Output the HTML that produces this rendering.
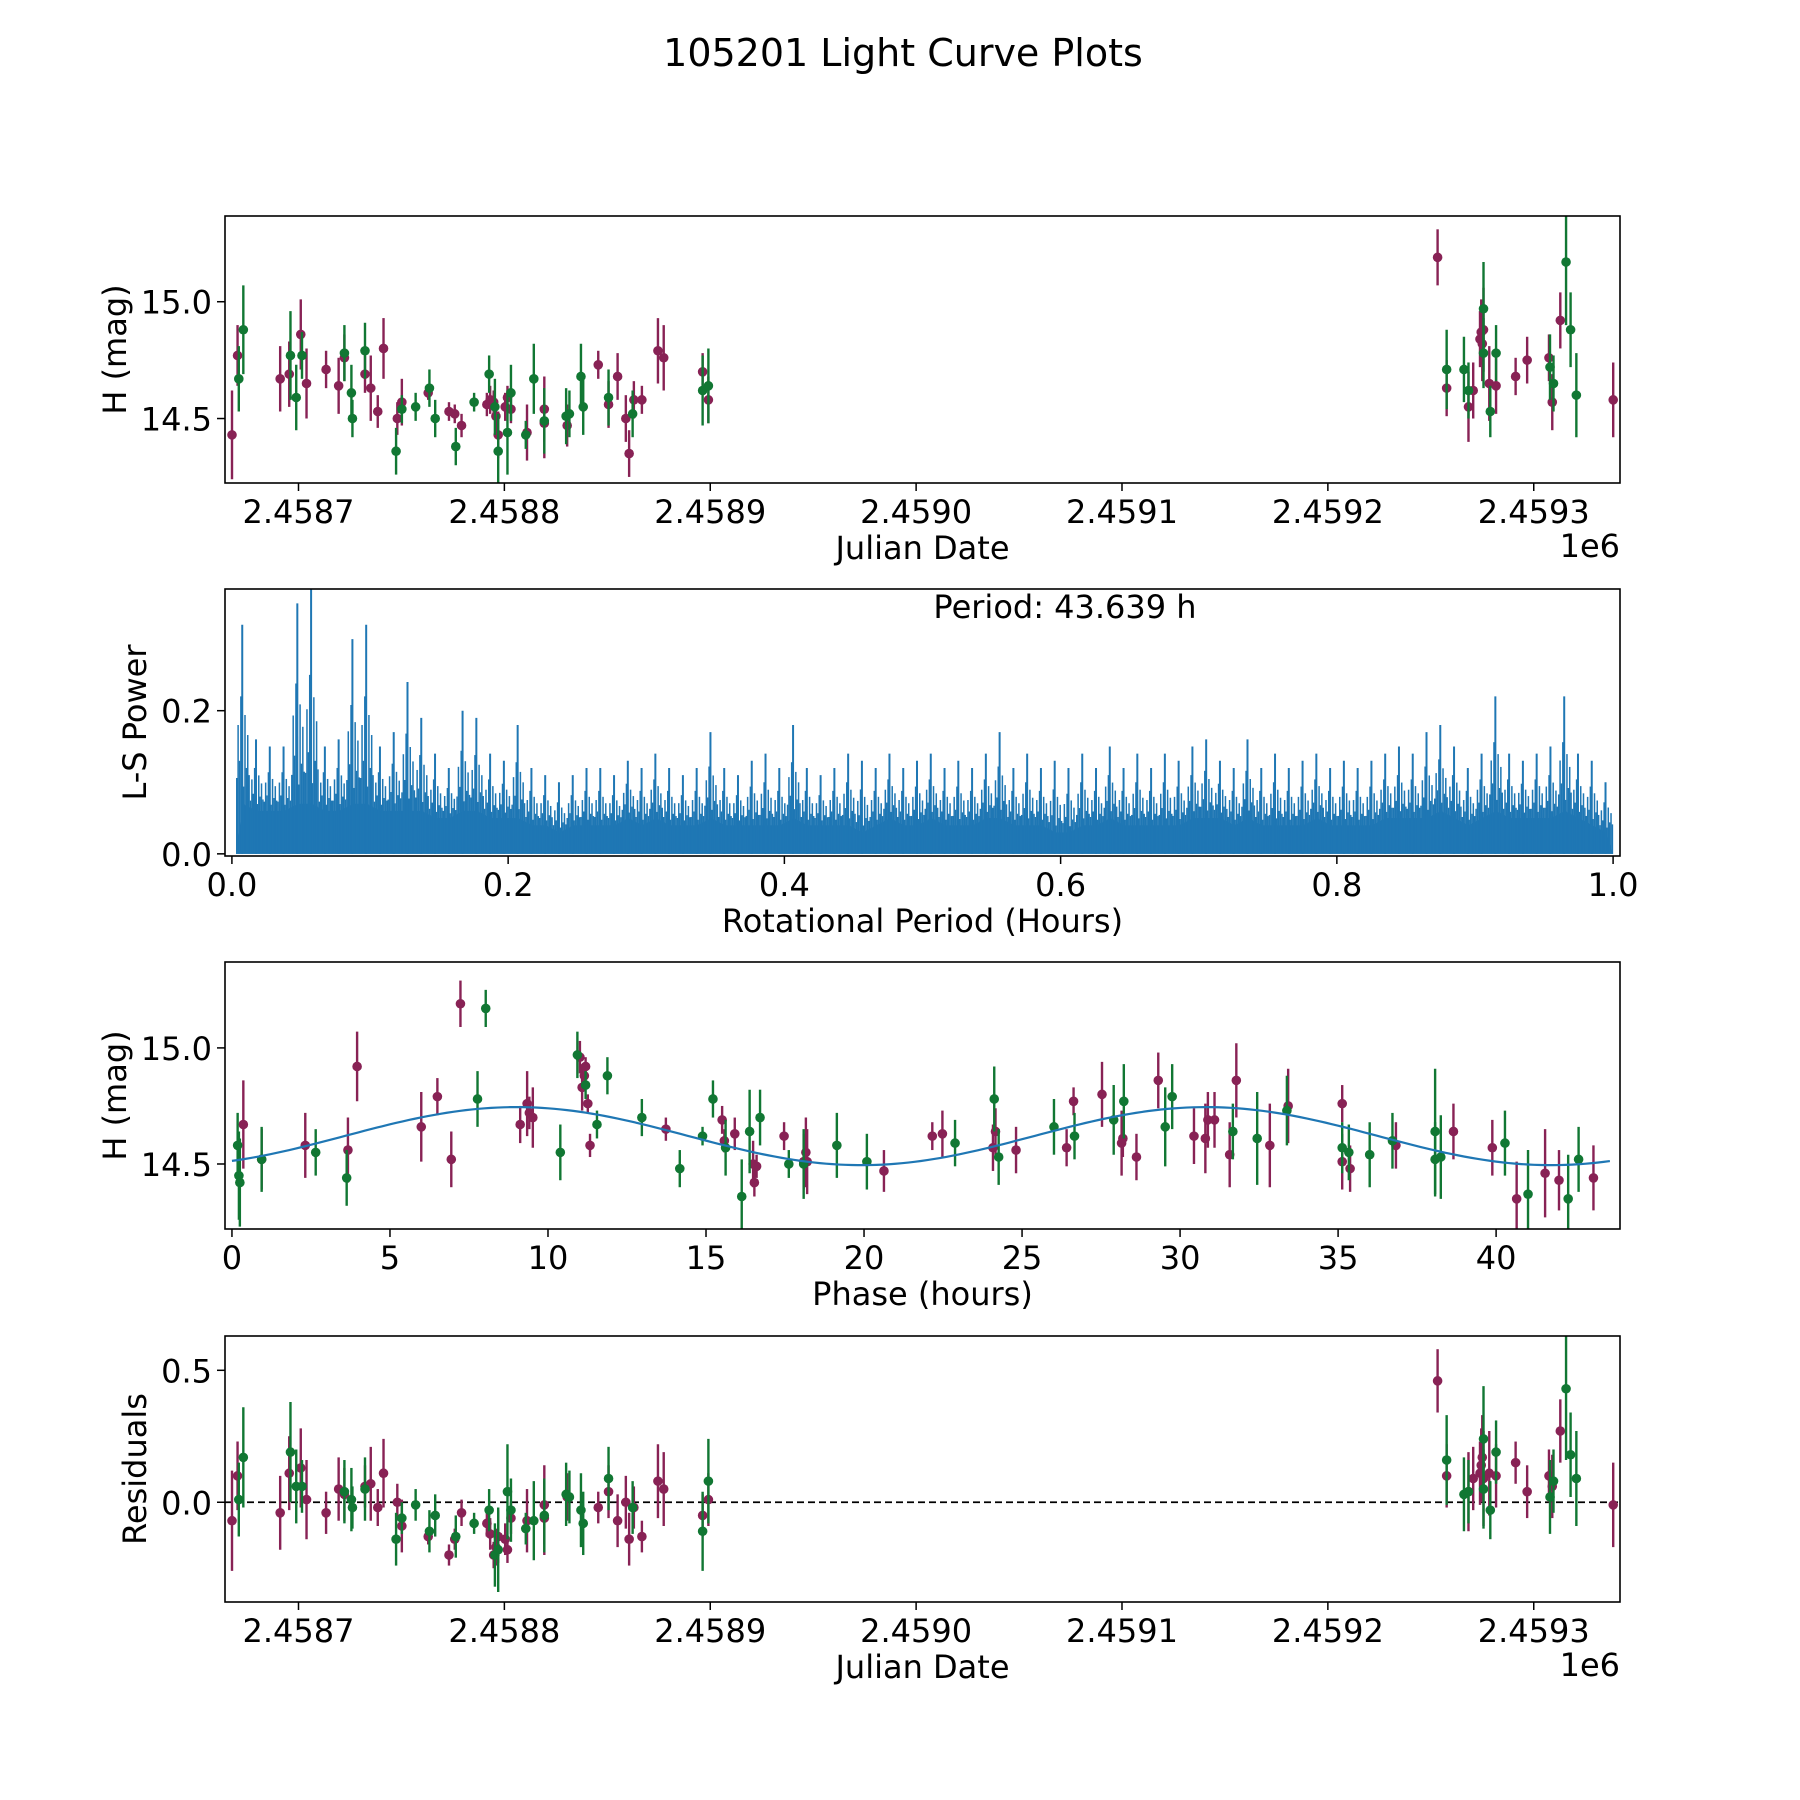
<!DOCTYPE html>
<html><head><meta charset="utf-8">
<style>
html,body{margin:0;padding:0;background:#fff;}
svg{display:block;font-family:"DejaVu Sans","Liberation Sans",sans-serif;}
</style></head>
<body>
<svg id="fig" width="1800" height="1800" viewBox="0 0 1800 1800" xmlns="http://www.w3.org/2000/svg">
<rect width="1800" height="1800" fill="#fff"/>
<text x="903" y="66" font-size="38" text-anchor="middle">105201 Light Curve Plots</text>
<g id="p1"></g>
<g id="p2"></g>
<g id="p3"></g>
<g id="p4"></g>
</svg>
<script>
// ---------- DATA ----------
const jdMaroon = [-32.3,-29.6,-8.9,-4.5,1.1,3.9,13.4,19.5,22.3,32.3,35.1,38.5,41.3,48.0,50.2,63.0,73.1,75.9,79.2,91.5,93.1,94.8,95.9,97.0,100.4,101.5,103.2,111.0,119.4,119.4,130.5,145.6,150.6,155.0,159.0,160.6,162.9,166.8,174.6,177.4,196.3,199.1,553.3,557.7,568.3,570.6,573.9,574.5,575.0,575.6,578.4,581.7,591.2,596.8,607.4,609.0,612.9,638.6];
const magMaroon = [14.43,14.77,14.67,14.69,14.86,14.65,14.71,14.64,14.76,14.69,14.63,14.53,14.80,14.50,14.57,14.61,14.53,14.52,14.47,14.56,14.58,14.57,14.51,14.43,14.55,14.59,14.54,14.44,14.48,14.54,14.47,14.73,14.56,14.68,14.50,14.35,14.58,14.58,14.79,14.76,14.70,14.58,15.19,14.63,14.55,14.62,14.84,14.87,14.82,14.88,14.65,14.64,14.68,14.75,14.76,14.57,14.92,14.58];
const errMaroon = [0.19,0.13,0.14,0.14,0.15,0.15,0.08,0.12,0.1,0.08,0.14,0.07,0.13,0.07,0.1,0.03,0.04,0.04,0.05,0.05,0.06,0.05,0.07,0.1,0.06,0.05,0.06,0.12,0.15,0.14,0.09,0.06,0.1,0.1,0.1,0.1,0.08,0.06,0.14,0.14,0.08,0.1,0.12,0.12,0.15,0.12,0.12,0.14,0.16,0.18,0.16,0.12,0.08,0.1,0.1,0.12,0.12,0.16];
const jdGreen = [-29.0,-26.8,-3.9,-1.1,1.7,22.3,25.7,26.2,32.3,47.4,50.2,56.9,63.6,66.4,76.4,85.3,92.6,95.4,97.0,101.5,103.2,110.4,114.3,119.4,130.0,131.6,137.2,138.3,150.6,162.3,196.3,199.1,557.7,566.1,568.3,575.6,575.6,578.9,581.7,607.9,609.6,615.7,617.9,620.7];
const magGreen = [14.67,14.88,14.77,14.59,14.77,14.78,14.61,14.50,14.79,14.36,14.54,14.55,14.63,14.50,14.38,14.57,14.69,14.55,14.36,14.44,14.61,14.43,14.67,14.49,14.51,14.52,14.68,14.55,14.59,14.52,14.62,14.64,14.71,14.71,14.62,14.97,14.78,14.53,14.78,14.72,14.65,15.17,14.88,14.60];
const errGreen = [0.14,0.19,0.19,0.14,0.1,0.12,0.12,0.08,0.12,0.1,0.06,0.06,0.08,0.08,0.08,0.04,0.08,0.12,0.16,0.18,0.12,0.06,0.15,0.14,0.12,0.1,0.14,0.12,0.12,0.1,0.15,0.16,0.17,0.14,0.12,0.2,0.15,0.11,0.12,0.14,0.12,0.27,0.16,0.18];
const resMaroon = [-0.07,0.10,-0.04,0.11,0.13,0.01,-0.04,0.05,0.03,0.06,0.07,-0.02,0.11,0.00,-0.09,-0.13,-0.20,-0.14,-0.04,-0.08,-0.12,-0.20,-0.17,-0.13,-0.14,-0.18,-0.06,-0.07,-0.01,-0.06,0.02,-0.02,0.04,-0.07,0.00,-0.14,-0.02,-0.13,0.08,0.05,-0.05,0.01,0.46,0.10,0.04,0.09,0.11,0.14,0.17,0.09,0.11,0.10,0.15,0.04,0.10,0.06,0.27,-0.01];
const resGreen = [0.01,0.17,0.19,0.06,0.06,0.04,0.01,-0.02,0.05,-0.14,-0.06,-0.01,-0.11,-0.05,-0.13,-0.08,-0.03,-0.20,-0.18,0.04,-0.03,-0.10,-0.07,-0.05,0.03,0.02,-0.03,-0.08,0.09,-0.02,-0.11,0.08,0.16,0.03,0.04,0.24,0.05,-0.03,0.19,0.02,0.08,0.43,0.18,0.09];
const phMaroon = [0.36,0.94,2.32,3.67,3.96,5.99,6.50,6.94,7.23,9.12,9.34,9.41,9.52,11.01,11.08,11.15,11.19,11.26,11.33,13.73,15.51,15.58,15.91,16.49,16.53,16.60,17.47,18.09,18.16,18.20,20.63,22.16,22.48,24.08,24.16,24.81,26.41,26.63,27.53,28.15,28.19,28.62,29.31,30.44,30.80,30.88,31.09,31.57,31.78,32.84,33.42,35.13,35.13,35.38,36.83,38.65,39.88,40.65,41.55,41.99,43.08];
const phMagMaroon = [14.67,14.52,14.58,14.56,14.92,14.66,14.79,14.52,15.19,14.67,14.76,14.72,14.70,14.96,14.83,14.88,14.92,14.76,14.58,14.65,14.69,14.60,14.63,14.50,14.42,14.49,14.62,14.51,14.55,14.51,14.47,14.62,14.63,14.57,14.64,14.56,14.57,14.77,14.80,14.59,14.61,14.53,14.86,14.62,14.61,14.69,14.69,14.54,14.86,14.58,14.75,14.51,14.76,14.48,14.58,14.64,14.57,14.35,14.46,14.43,14.44];
const phGreen = [0.18,0.22,0.25,0.94,2.65,3.63,7.77,8.03,10.39,10.93,11.19,11.55,11.88,12.97,14.17,14.89,15.22,15.62,16.13,16.38,16.71,17.62,18.09,19.14,20.09,22.88,24.12,24.26,26.01,26.66,27.90,28.22,29.53,29.75,31.67,32.44,33.38,35.13,35.34,36.00,36.72,38.07,38.07,38.25,40.28,41.01,42.28,42.61];
const phMagGreen = [14.58,14.45,14.42,14.52,14.55,14.44,14.78,15.17,14.55,14.97,14.84,14.67,14.88,14.70,14.48,14.62,14.78,14.57,14.36,14.64,14.70,14.50,14.50,14.58,14.51,14.59,14.78,14.53,14.66,14.62,14.69,14.77,14.66,14.79,14.64,14.61,14.73,14.57,14.55,14.54,14.60,14.64,14.52,14.53,14.59,14.37,14.35,14.52];
const modelMean = [14.62];
const modelAmp = [0.125];
const modelPeriod = [21.82];
const modelOffset = [3.55];
const lsPeak = [0.32,0.16,0.15,0.15,0.35,0.37,0.15,0.16,0.30,0.32,0.15,0.17,0.24,0.19,0.14,0.12,0.20,0.19,0.14,0.13,0.18,0.12,0.11,0.10,0.11,0.12,0.12,0.11,0.13,0.12,0.14,0.12,0.11,0.12,0.17,0.12,0.11,0.13,0.14,0.12,0.18,0.12,0.11,0.12,0.14,0.13,0.12,0.14,0.12,0.13,0.14,0.12,0.13,0.12,0.14,0.17,0.12,0.14,0.12,0.13,0.12,0.14,0.12,0.15,0.12,0.14,0.12,0.14,0.13,0.15,0.16,0.13,0.12,0.16,0.12,0.14,0.12,0.13,0.14,0.12,0.13,0.12,0.13,0.14,0.15,0.14,0.17,0.18,0.15,0.12,0.14,0.22,0.14,0.13,0.14,0.15,0.22,0.14,0.13,0.10];
const lsFill = [0.07,0.06,0.06,0.06,0.07,0.07,0.06,0.06,0.07,0.07,0.06,0.06,0.06,0.06,0.05,0.05,0.06,0.06,0.05,0.05,0.05,0.04,0.04,0.03,0.04,0.04,0.04,0.04,0.05,0.04,0.05,0.04,0.04,0.04,0.05,0.04,0.04,0.04,0.04,0.04,0.05,0.04,0.04,0.04,0.04,0.03,0.04,0.05,0.04,0.04,0.05,0.04,0.04,0.04,0.05,0.05,0.04,0.04,0.04,0.03,0.03,0.04,0.04,0.05,0.04,0.04,0.04,0.04,0.04,0.05,0.05,0.05,0.04,0.05,0.04,0.04,0.04,0.04,0.05,0.04,0.04,0.04,0.04,0.05,0.05,0.05,0.05,0.06,0.05,0.04,0.05,0.06,0.05,0.05,0.05,0.05,0.06,0.05,0.04,0.03];
const jdTicks = [0,100,200,300,400,500,600];
const jdTickLabels = ["2.4587","2.4588","2.4589","2.4590","2.4591","2.4592","2.4593"];
const magTicks = [14.5,15.0];
const magTickLabels = ["14.5","15.0"];
const lsXTicks = [0,0.2,0.4,0.6,0.8,1.0];
const lsXTickLabels = ["0.0","0.2","0.4","0.6","0.8","1.0"];
const lsYTicks = [0,0.2];
const lsYTickLabels = ["0.0","0.2"];
const phTicks = [0,5,10,15,20,25,30,35,40];
const phTickLabels = ["0","5","10","15","20","25","30","35","40"];
const resTicks = [0,0.5];
const resTickLabels = ["0.0","0.5"];

// ---------- DRAWING ----------
const NS = "http://www.w3.org/2000/svg";
const MAROON = "#882255", GREEN = "#117733", BLUE = "#1f77b4";
const L = 225, R = 1620, FS = 32;
function mk(parent, tag, attrs) {
  const e = document.createElementNS(NS, tag);
  for (const k in attrs) e.setAttribute(k, attrs[k]);
  parent.appendChild(e);
  return e;
}
function lin(d0, d1, r0, r1) { return v => r0 + (v - d0) * (r1 - r0) / (d1 - d0); }

function frame(g, top, bot, xs, ys, xt, xtl, yt, ytl, xlabel, ylabel, ylabX) {
  xt.forEach((v, i) => {
    const x = xs(v);
    const t = mk(g, "line", {x1: x, x2: x, y1: bot, y2: bot + 8, stroke: "#000", "stroke-width": 1.5});
    
    
    const lb = mk(g, "text", {x: x, y: bot + 40, "font-size": FS, "text-anchor": "middle"});
    lb.textContent = xtl[i];
    
    
  });
  yt.forEach((v, i) => {
    const y = ys(v);
    const t = mk(g, "line", {x1: L - 8, x2: L, y1: y, y2: y, stroke: "#000", "stroke-width": 1.5});
    
    
    const lb = mk(g, "text", {x: L - 13, y: y + 12, "font-size": FS, "text-anchor": "end"});
    lb.textContent = ytl[i];
    
    
  });
  const xl = mk(g, "text", {x: (L + R) / 2, y: bot + 76, "font-size": FS, "text-anchor": "middle"});
  xl.textContent = xlabel;
  
  
  const cy = (top + bot) / 2;
  const yl = mk(g, "text", {x: ylabX, y: cy, "font-size": FS, "text-anchor": "middle", transform: `rotate(-90 ${ylabX} ${cy})`});
  yl.textContent = ylabel;
  
  
}
function border(g, top, bot) {
  const b = mk(g, "rect", {x: L, y: top, width: R - L, height: bot - top, fill: "none", stroke: "#000", "stroke-width": 1.6});
  
  
}
function clip(id, top, bot) {
  const defs = mk(document.getElementById("fig"), "defs", {});
  const cp = mk(defs, "clipPath", {id: id});
  mk(cp, "rect", {x: L, y: top, width: R - L, height: bot - top});
}
function errPoints(g, xsArr, ysArr, errs, xs, ys, color, name) {
  xsArr.forEach((xv, i) => {
    const x = xs(xv), y = ys(ysArr[i]);
    if (errs) {
      const e = mk(g, "line", {x1: x, x2: x, y1: ys(ysArr[i] + errs[i]), y2: ys(ysArr[i] - errs[i]), stroke: color, "stroke-width": 2.4});
      
      
    }
    const c = mk(g, "circle", {cx: x, cy: y, r: 4.8, fill: color});
    
    
  });
}

// Panel 1
(function () {
  const g = document.getElementById("p1"), top = 216, bot = 483;
  clip("c1", top, bot);
  const xs = lin(-35.7, 641.9, L, R), ys = lin(14.224, 15.367, bot, top);
  frame(g, top, bot, xs, ys, jdTicks, jdTickLabels, magTicks, magTickLabels, "Julian Date", "H (mag)", 126);
  const d = mk(g, "g", {"clip-path": "url(#c1)"});
  errPoints(d, jdMaroon, magMaroon, errMaroon, xs, ys, MAROON, "maroon");
  errPoints(d, jdGreen, magGreen, errGreen, xs, ys, GREEN, "green");
  border(g, top, bot);
  const ex = mk(g, "text", {x: R, y: bot + 74, "font-size": FS, "text-anchor": "end"});
  ex.textContent = "1e6";
  
  
})();

// Panel 2
(function () {
  const g = document.getElementById("p2"), top = 589, bot = 856;
  clip("c2", top, bot);
  const xs = lin(-0.005, 1.005, L, R), ys = lin(-0.003, 0.37, bot, top);
  frame(g, top, bot, xs, ys, lsXTicks, lsXTickLabels, lsYTicks, lsYTickLabels, "Rotational Period (Hours)", "L-S Power", 146);
  const d = mk(g, "g", {"clip-path": "url(#c2)"});
  const n = lsFill.length;
  let pts = `${xs(0.003)},${ys(0)} `;
  lsFill.forEach((v, i) => {
    pts += `${xs(0.003 + (i + 0.5) * 0.997 / n)},${ys(v)} `;
  });
  pts += `${xs(1)},${ys(0)}`;
  const area = mk(d, "polygon", {points: pts, fill: BLUE});
  
  
  const fr = [0.18, 0.55, 0.3, 0.75, 0.42, 0.12, 0.62, 0.25, 0.48, 0.2];
  lsPeak.forEach((v, i) => {
    const x0 = xs(0.003 + i * 0.997 / n), x1 = xs(0.003 + (i + 1) * 0.997 / n);
    const xm = x0 + (x1 - x0) * 0.45;
    const s = mk(d, "line", {x1: xm, x2: xm, y1: ys(0), y2: ys(v), stroke: BLUE, "stroke-width": 2});
    
    
    fr.forEach((f, k) => {
      const xx = x0 + (x1 - x0) * (k + 0.5) / fr.length;
      const h = lsFill[i] + (v - lsFill[i]) * f * 0.8;
      const s2 = mk(d, "line", {x1: xx, x2: xx, y1: ys(0), y2: ys(h), stroke: BLUE, "stroke-width": 1.5});
      
      
    });
  });
  border(g, top, bot);
  const ann = mk(g, "text", {x: 1065, y: 618, "font-size": FS, "text-anchor": "middle"});
  ann.textContent = "Period: 43.639 h";
  
  
})();

// Panel 3
(function () {
  const g = document.getElementById("p3"), top = 962, bot = 1229;
  clip("c3", top, bot);
  const xs = lin(-0.22, 43.92, L, R), ys = lin(14.22, 15.37, bot, top);
  frame(g, top, bot, xs, ys, phTicks, phTickLabels, magTicks, magTickLabels, "Phase (hours)", "H (mag)", 126);
  const d = mk(g, "g", {"clip-path": "url(#c3)"});
  errPoints(d, phMaroon, phMagMaroon, phMagMaroon.map((_, i) => errMaroon[i % errMaroon.length]), xs, ys, MAROON, "maroon");
  errPoints(d, phGreen, phMagGreen, phMagGreen.map((_, i) => errGreen[i % errGreen.length]), xs, ys, GREEN, "green");
  let p = "";
  for (let t = 0; t <= 43.64; t += 0.2) {
    const m = modelMean[0] + modelAmp[0] * Math.sin(2 * Math.PI * (t - modelOffset[0]) / modelPeriod[0]);
    p += (p ? " L" : "M") + xs(t) + "," + ys(m);
  }
  const c = mk(d, "path", {d: p, fill: "none", stroke: BLUE, "stroke-width": 2.2});
  
  
  border(g, top, bot);
})();

// Panel 4
(function () {
  const g = document.getElementById("p4"), top = 1336, bot = 1602;
  clip("c4", top, bot);
  const xs = lin(-35.7, 641.9, L, R), ys = lin(-0.378, 0.63, bot, top);
  frame(g, top, bot, xs, ys, jdTicks, jdTickLabels, resTicks, resTickLabels, "Julian Date", "Residuals", 146);
  const d = mk(g, "g", {"clip-path": "url(#c4)"});
  const z = mk(d, "line", {x1: L, x2: R, y1: ys(0), y2: ys(0), stroke: "#000", "stroke-width": 1.8, "stroke-dasharray": "7 4"});
  
  
  errPoints(d, jdMaroon, resMaroon, errMaroon, xs, ys, MAROON, "maroon-residual");
  errPoints(d, jdGreen, resGreen, errGreen, xs, ys, GREEN, "green-residual");
  border(g, top, bot);
  const ex = mk(g, "text", {x: R, y: bot + 74, "font-size": FS, "text-anchor": "end"});
  ex.textContent = "1e6";
  
  
})();
</script>
</body></html>
